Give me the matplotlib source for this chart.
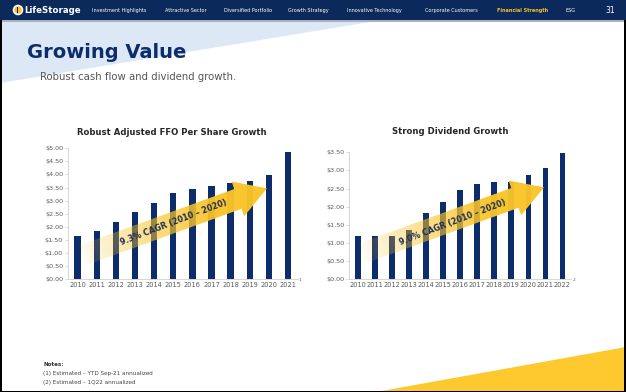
import numpy as np
import matplotlib
matplotlib.use('Agg')
import matplotlib.pyplot as plt
from matplotlib.patches import Polygon, Rectangle, Circle

# ---------------- data ----------------
ffo_years = ['2010', '2011', '2012', '2013', '2014', '2015', '2016', '2017',
             '2018', '2019', '2020', '2021']
ffo_values = [1.63, 1.83, 2.18, 2.55, 2.91, 3.28, 3.46, 3.54, 3.67, 3.73, 3.96, 4.85]
ffo_ticks = [0.0, 0.5, 1.0, 1.5, 2.0, 2.5, 3.0, 3.5, 4.0, 4.5, 5.0]

div_years = ['2010', '2011', '2012', '2013', '2014', '2015', '2016', '2017',
             '2018', '2019', '2020', '2021', '2022']
div_values = [1.20, 1.20, 1.20, 1.35, 1.82, 2.13, 2.47, 2.63, 2.67, 2.67, 2.86, 3.08, 3.48]
div_ticks = [0.0, 0.5, 1.0, 1.5, 2.0, 2.5, 3.0, 3.5]

nav_items = ['Investment Highlights', 'Attractive Sector', 'Diversified Portfolio',
             'Growth Strategy', 'Innovative Technology', 'Corporate Customers',
             'Financial Strength', 'ESG']
nav_active = 'Financial Strength'
page_number = '31'

title = 'Growing Value'
subtitle = 'Robust cash flow and dividend growth.'
ffo_title = 'Robust Adjusted FFO Per Share Growth'
div_title = 'Strong Dividend Growth'
ffo_cagr = '9.3% CAGR (2010 \u2013 2020)'
div_cagr = '9.0% CAGR (2010 \u2013 2020)'
notes = ['Notes:', '(1) Estimated \u2013 YTD Sep-21 annualized',
         '(2) Estimated \u2013 1Q22 annualized']

# ---------------- style ----------------
NAVY = '#0B2A5B'
BAR = '#0D2C6C'
YELLOW = '#FDC92F'
ARROW_Y = (0.98, 0.77, 0.16)
LIGHTBLUE = '#DDE8F6'
GRAY_TXT = '#595959'
AX_GRAY = '#D0D0D0'

W, H = 626, 392
plt.rcParams['font.family'] = ['DejaVu Sans']
fig = plt.figure(figsize=(W / 100, H / 100), dpi=100)
fig.patch.set_facecolor('white')

# background layer in pixel coordinates
bg = fig.add_axes([0, 0, 1, 1], zorder=0)
bg.set_xlim(0, W)
bg.set_ylim(H, 0)
bg.axis('off')

bg.add_patch(Polygon([(0, 20), (382, 20), (0, 83)], closed=True, color=LIGHTBLUE, lw=0))
bg.add_patch(Rectangle((0, 0), W, 20, color=NAVY, lw=0))
bg.add_patch(Rectangle((0, 20), W, 1.8, color='#A9B2C0', lw=0))
bg.add_patch(Polygon([(376, H), (W, 347), (W, H)], closed=True, color=YELLOW, lw=0))

# logo
bg.add_patch(Circle((18, 10), 5.3, color='white', lw=0))
bg.add_patch(Circle((18, 10), 3.7, color='#F5C02A', lw=0))
bg.add_patch(Rectangle((16.8, 7.2), 1.6, 5.6, color=NAVY, lw=0))
bg.text(24, 10.3, 'LifeStorage', color='white', fontsize=6.2, fontweight='bold',
        ha='left', va='center')

nav_x = [119, 186, 248, 308, 374, 451, 523, 571]
for name, xc in zip(nav_items, nav_x):
    active = name == nav_active
    bg.text(xc, 10.3, name, color='#F5C02A' if active else 'white',
            fontsize=3.5, fontweight='bold' if active else 'normal',
            ha='center', va='center')
bg.text(610, 10.3, page_number, color='white', fontsize=5.5, ha='center', va='center')

bg.text(27, 52, title, color='#0B2D6B', fontsize=14, fontweight='bold',
        ha='left', va='center')
bg.text(40, 77, subtitle, color='#555555', fontsize=7.3, ha='left', va='center')

bg.text(172, 132.5, ffo_title, color='#262626', fontsize=6.1, fontweight='bold',
        ha='center', va='center')
bg.text(450, 132, div_title, color='#262626', fontsize=6.1, fontweight='bold',
        ha='center', va='center')

bg.text(43, 364, notes[0], color='#333333', fontsize=4.1, fontweight='bold',
        ha='left', va='center')
bg.text(43, 374, notes[1], color='#444444', fontsize=4.1, ha='left', va='center')
bg.text(43, 382.7, notes[2], color='#444444', fontsize=4.1, ha='left', va='center')


def style_axes(ax, labels, ticks, sup):
    ax.patch.set_alpha(0)
    for s in ('top', 'right'):
        ax.spines[s].set_visible(False)
    for s in ('left', 'bottom'):
        ax.spines[s].set_color(AX_GRAY)
        ax.spines[s].set_linewidth(0.6)
    ax.set_xticks(np.arange(len(labels)))
    ax.set_xticklabels(labels)
    ax.set_yticks(ticks)
    ax.set_yticklabels(['${:.2f}'.format(t) for t in ticks])
    ax.set_ylim(ticks[0], ticks[-1])
    ax.set_xlim(-0.5, len(labels) - 0.5)
    ax.tick_params(axis='y', length=2, width=0.5, color=AX_GRAY, labelsize=4.6,
                   labelcolor=GRAY_TXT, pad=1.5)
    ax.tick_params(axis='x', length=0, labelsize=4.8, labelcolor=GRAY_TXT, pad=2.0)
    ax.annotate(sup, xy=(len(labels) - 1, 0), xycoords=('data', 'axes fraction'),
                xytext=(7.6, -1.0), textcoords='offset points', fontsize=3.2,
                color=GRAY_TXT, ha='left', va='center')


ax1 = fig.add_axes([68 / W, (H - 279) / H, 229.6 / W, 130.7 / H], zorder=1)
ax1.bar(np.arange(len(ffo_values)), ffo_values, width=0.33, color=BAR)
style_axes(ax1, ffo_years, ffo_ticks, '1')

ax2 = fig.add_axes([349.3 / W, (H - 279) / H, 221.7 / W, 126.7 / H], zorder=1)
ax2.bar(np.arange(len(div_values)), div_values, width=0.33, color=BAR)
style_axes(ax2, div_years, div_ticks, '2')

# overlay layer (arrows, border)
ov = fig.add_axes([0, 0, 1, 1], zorder=3)
ov.patch.set_alpha(0)
ov.axis('off')


def grad_arrow(ax, tip, ang_deg, L, bw, hw, hl):
    a = np.radians(ang_deg)
    c, s = np.cos(a), np.sin(a)
    tx, ty = tip[0] - L * c, tip[1] + L * s

    def P(u, v):
        return (tx + u * c + v * s, ty - u * s + v * c)

    pts = [P(0, -bw), P(L - hl, -bw), P(L - hl, -hw), P(L, 0),
           P(L - hl, hw), P(L - hl, bw), P(0, bw)]
    poly = Polygon(pts, closed=True, facecolor='none', edgecolor='none')
    ax.add_patch(poly)
    xs = [p[0] for p in pts]
    ys = [p[1] for p in pts]
    x0, x1 = min(xs) - 1, max(xs) + 1
    y0, y1 = min(ys) - 1, max(ys) + 1
    nx, ny = int((x1 - x0) * 3), int((y1 - y0) * 3)
    GX, GY = np.meshgrid(np.linspace(x0, x1, nx), np.linspace(y0, y1, ny))
    U = (GX - tx) * c - (GY - ty) * s
    t = np.clip(U / L, 0, 1)
    rgba = np.zeros((ny, nx, 4))
    rgba[..., 0], rgba[..., 1], rgba[..., 2] = ARROW_Y
    rgba[..., 3] = np.clip(0.05 + 1.25 * t ** 0.9, 0, 0.97)
    im = ax.imshow(rgba, extent=(x0, x1, y1, y0), origin='upper',
                   interpolation='bilinear', aspect='auto', zorder=1)
    im.set_clip_path(poly)


grad_arrow(ov, (267, 188.3), 20, 196, 10.5, 18.5, 31)
grad_arrow(ov, (544, 187.3), 20, 193, 10.5, 18.5, 31)
ov.text(173.3, 222.0, ffo_cagr, rotation=21, rotation_mode='anchor', ha='center',
        va='center', fontsize=5.8, fontweight='bold', color='#1E2F58', zorder=2)
ov.text(452.5, 222.8, div_cagr, rotation=21, rotation_mode='anchor', ha='center',
        va='center', fontsize=5.8, fontweight='bold', color='#1E2F58', zorder=2)

ov.add_patch(Rectangle((0, 390.5), W, 1.5, color='black', lw=0, zorder=5))
ov.add_patch(Rectangle((0, 20), 1.6, H - 20, color='black', lw=0, zorder=5))
ov.add_patch(Rectangle((W - 1.8, 20), 1.8, H - 20, color='black', lw=0, zorder=5))
ov.set_xlim(0, W)
ov.set_ylim(H, 0)

fig.savefig('out.png', dpi=100)
